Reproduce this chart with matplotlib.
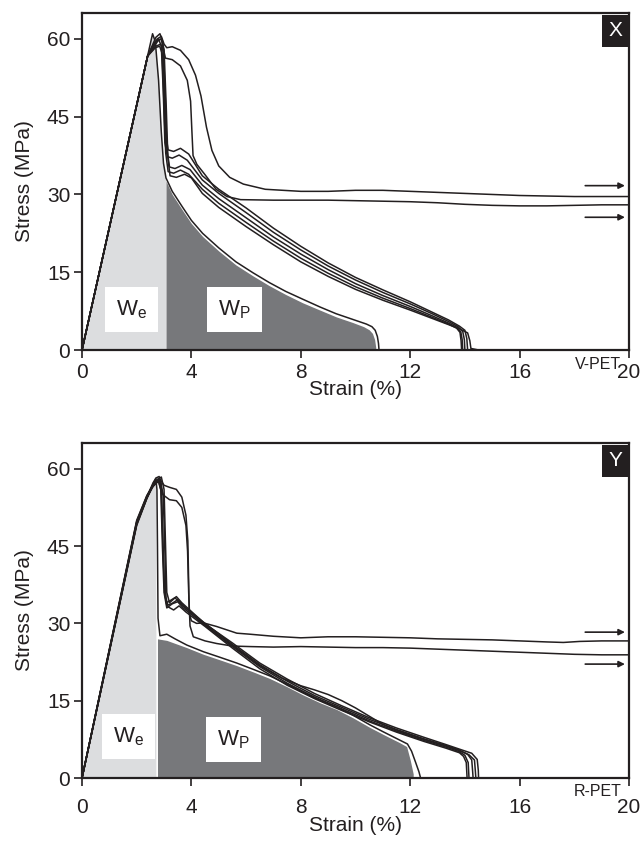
import numpy as np
import matplotlib.pyplot as plt

plt.rcParams['font.family'] = ['Liberation Sans', 'DejaVu Sans']
plt.rcParams['mathtext.fontset'] = 'custom'
plt.rcParams['mathtext.rm'] = 'Liberation Sans'
plt.rcParams['mathtext.it'] = 'Liberation Sans'

ink = '#231f20'
light = '#dcdddf'
dark = '#77787b'

xticks = [0, 4, 8, 12, 16, 20]
yticks = [0, 15, 30, 45, 60]

# ---------------- V-PET (panel X) ----------------
v1_x = [0, 2.58, 2.68, 2.8, 2.9, 2.98, 3.07, 3.3, 3.67, 4.0, 4.41, 5.0, 5.63, 6.25, 6.85, 7.45, 8.07, 8.7, 9.29, 9.9, 10.4, 10.6, 10.72, 10.8, 10.84, 10.86]
v1_y = [0, 61.0, 59.5, 52, 42, 36, 33.2, 30.6, 27.6, 25.0, 22.5, 19.7, 17.0, 14.9, 13.0, 11.3, 9.8, 8.3, 7.0, 5.9, 5.0, 4.5, 3.8, 2.6, 1.3, 0]
v2_x = [0, 2.4, 2.7, 2.85, 2.95, 3.0, 3.05, 3.15, 3.35, 3.6, 3.9, 4.4, 5.0, 6.0, 7.0, 8.0, 9.0, 10.0, 11.0, 12.0, 12.8, 13.4, 13.8, 14.0, 14.07, 14.1]
v2_y = [0, 56.7, 60.3, 61.0, 59.5, 52, 42, 38.6, 38.3, 38.9, 37.8, 33.6, 31.0, 27.4, 23.5, 20.0, 16.8, 14.0, 11.6, 9.3, 7.3, 5.8, 4.6, 3.8, 2.2, 0]
v3_x = [0, 2.4, 2.65, 2.8, 2.9, 2.97, 3.03, 3.12, 3.3, 3.55, 3.85, 4.4, 5.0, 6.0, 7.0, 8.0, 9.0, 10.0, 11.0, 12.0, 12.8, 13.4, 13.75, 13.92, 13.98, 14.0]
v3_y = [0, 56.7, 59.2, 60.0, 58.6, 50, 40, 37.3, 37.0, 37.6, 36.6, 32.8, 30.2, 26.5, 22.7, 19.3, 16.2, 13.5, 11.1, 8.9, 7.0, 5.5, 4.5, 3.6, 2.0, 0]
v4_x = [0, 2.4, 2.7, 2.88, 2.98, 3.05, 3.1, 3.2, 3.4, 3.65, 3.95, 4.4, 5.0, 6.0, 7.0, 8.0, 9.0, 10.0, 11.0, 12.0, 12.8, 13.4, 13.7, 13.85, 13.9, 13.92]
v4_y = [0, 56.7, 58.6, 59.0, 57.5, 48, 39, 35.3, 35.0, 35.6, 34.8, 31.8, 29.2, 25.5, 21.8, 18.5, 15.5, 12.8, 10.5, 8.4, 6.6, 5.2, 4.4, 3.5, 2.0, 0]
v5_x = [0, 2.4, 2.68, 2.84, 2.93, 3.0, 3.06, 3.15, 3.35, 3.6, 3.9, 4.4, 5.0, 6.0, 7.0, 8.0, 9.0, 10.0, 11.0, 12.0, 12.8, 13.4, 13.7, 13.82, 13.86, 13.88]
v5_y = [0, 56.7, 58.3, 58.6, 57.2, 47, 38, 34.4, 34.1, 34.7, 33.9, 31.0, 28.3, 24.6, 21.0, 17.7, 14.8, 12.2, 10.0, 8.0, 6.3, 5.0, 4.2, 3.4, 1.8, 0]
v6_x = [0, 2.4, 2.72, 2.9, 3.0, 3.08, 3.14, 3.22, 3.45, 3.75, 4.0, 4.4, 5.0, 6.0, 7.0, 8.0, 9.0, 10.0, 11.0, 12.0, 12.8, 13.4, 13.8, 14.1, 14.18, 14.22, 14.5]
v6_y = [0, 56.7, 59.5, 60.0, 58.0, 47, 37, 33.6, 33.3, 33.9, 33.2, 30.2, 27.5, 23.8, 20.3, 17.0, 14.2, 11.7, 9.6, 7.7, 6.1, 4.9, 4.1, 3.3, 1.8, 0.3, 0]
v7_x = [0, 2.4, 2.75, 2.9, 3.0, 3.1, 3.3, 3.6, 3.9, 4.15, 4.35, 4.55, 4.75, 5.0, 5.4, 5.9, 6.7, 8.0, 9.0, 10.0, 11.0, 12.0, 13.0, 14.0, 15.0, 16.0, 17.0, 18.0, 19.0, 20.0]
v7_y = [0, 56.7, 60.0, 60.5, 59.0, 58.3, 58.5, 57.8, 56.0, 53.0, 49.0, 43.0, 38.5, 35.5, 33.3, 32.0, 31.0, 30.6, 30.6, 30.8, 30.8, 30.6, 30.4, 30.2, 30.0, 29.8, 29.7, 29.6, 29.6, 29.6]
v8_x = [0, 2.4, 2.8, 2.9, 2.98, 3.05, 3.3, 3.6, 3.85, 3.97, 4.02, 4.06, 4.2, 4.5, 4.9, 5.3, 5.8, 7.0, 8.0, 9.0, 10.0, 11.0, 12.0, 13.0, 14.0, 15.0, 16.0, 17.0, 18.0, 19.0, 20.0]
v8_y = [0, 56.7, 59.8, 60.0, 58.0, 56.3, 56.0, 54.8, 52.0, 48.0, 42.0, 37.5, 35.8, 33.8, 31.0, 29.6, 29.0, 28.9, 28.9, 28.9, 28.8, 28.7, 28.6, 28.4, 28.1, 27.9, 27.8, 27.8, 27.9, 28.0, 28.0]

v_we_x = [0, 2.58, 2.68, 2.8, 2.9, 2.98, 3.07, 3.07]
v_we_y = [0, 61.0, 59.5, 52, 42, 36, 33.2, 0]
v_wp_x = [3.07, 3.3, 3.67, 4.0, 4.41, 5.0, 5.63, 6.25, 6.85, 7.45, 8.07, 8.7, 9.29, 9.9, 10.3, 10.5, 10.62, 10.7, 10.74]
v_wp_y = [32.6, 30.0, 27.0, 24.4, 21.9, 19.1, 16.4, 14.3, 12.4, 10.7, 9.1, 7.7, 6.4, 5.3, 4.5, 3.9, 3.2, 2.0, 0.5]
v_arrow_y = [31.7, 25.6]

# ---------------- R-PET (panel Y) ----------------
r1_x = [0, 2.0, 2.37, 2.6, 2.7, 2.74, 2.76, 2.78, 2.85, 3.1, 3.4, 3.83, 4.44, 5.0, 5.66, 6.3, 6.87, 7.5, 8.09, 8.7, 9.31, 9.9, 10.53, 11.0, 11.3, 11.6, 11.9, 12.05, 12.2, 12.32, 12.38]
r1_y = [0, 49.5, 54.5, 57.3, 58.1, 56, 45, 31, 27.6, 27.9, 27.0, 25.8, 24.5, 23.5, 22.3, 21.0, 19.8, 18.2, 16.6, 15.1, 13.8, 12.2, 10.3, 9.0, 8.2, 7.4, 6.6, 5.2, 3.0, 1.2, 0]
r2_x = [0, 2.0, 2.37, 2.55, 2.7, 2.82, 2.9, 2.95, 3.0, 3.08, 3.25, 3.4, 3.6, 4.5, 5.5, 6.5, 7.5, 8.5, 9.5, 10.5, 11.5, 12.5, 13.3, 13.8, 14.1, 14.25, 14.28, 14.3]
r2_y = [0, 49.8, 54.7, 56.5, 58.2, 58.5, 57, 48, 38, 34, 34.5, 35.0, 33.8, 30.0, 25.9, 22.0, 18.8, 16.0, 13.7, 11.4, 9.4, 7.6, 6.3, 5.4, 4.6, 3.5, 1.5, 0]
r3_x = [0, 2.0, 2.37, 2.55, 2.68, 2.78, 2.88, 2.94, 3.0, 3.1, 3.3, 3.5, 3.7, 4.5, 5.5, 6.5, 7.5, 8.5, 9.5, 10.5, 11.5, 12.5, 13.3, 13.8, 14.0, 14.12, 14.15]
r3_y = [0, 49.2, 54.3, 56.4, 57.6, 58.0, 56, 45, 36, 33.0, 33.8, 34.2, 33.0, 29.6, 25.5, 21.6, 18.4, 15.7, 13.4, 11.1, 9.1, 7.3, 6.0, 5.1, 4.4, 3.0, 0]
r4_x = [0, 2.0, 2.37, 2.55, 2.72, 2.85, 2.97, 3.03, 3.07, 3.15, 3.35, 3.55, 3.8, 4.5, 5.5, 6.5, 7.5, 8.5, 9.5, 10.5, 11.5, 12.5, 13.3, 13.8, 13.95, 14.05, 14.08]
r4_y = [0, 49.0, 54.2, 56.3, 57.4, 57.8, 55, 44, 35, 33.2, 32.6, 33.4, 32.2, 29.4, 25.2, 21.2, 18.0, 15.4, 13.1, 10.9, 8.9, 7.1, 5.8, 4.9, 4.2, 3.0, 0]
r5_x = [0, 2.0, 2.37, 2.6, 2.78, 2.9, 3.0, 3.05, 3.1, 3.2, 3.45, 3.65, 4.5, 5.5, 6.5, 7.5, 8.5, 9.5, 10.5, 11.5, 12.5, 13.3, 13.8, 14.25, 14.45, 14.49, 14.5]
r5_y = [0, 50.0, 54.8, 56.8, 58.0, 58.4, 56, 46, 36, 34, 35.2, 34, 29.9, 26.2, 22.3, 19.2, 16.4, 14.0, 11.7, 9.7, 7.9, 6.5, 5.6, 4.8, 3.6, 1.5, 0]
r6_x = [0, 2.0, 2.37, 2.55, 2.7, 2.8, 2.9, 2.96, 3.02, 3.1, 3.3, 3.5, 3.7, 4.5, 5.5, 6.5, 7.3, 8.0, 8.5, 9.0, 9.5, 10.0, 10.5, 11.0, 11.5, 12.5, 13.3, 13.8, 14.15, 14.35, 14.38, 14.4]
r6_y = [0, 49.4, 54.4, 56.3, 57.2, 57.5, 55.5, 45, 36, 33.5, 33.9, 34.6, 33.4, 29.7, 25.7, 21.8, 19.4, 17.9, 17.1, 16.2, 15.0, 13.6, 12.0, 10.4, 9.3, 7.5, 6.2, 5.3, 4.5, 3.5, 1.5, 0]
r7_x = [0, 2.0, 2.37, 2.6, 2.75, 2.85, 3.0, 3.2, 3.45, 3.65, 3.8, 3.87, 3.9, 3.92, 4.0, 4.19, 4.44, 4.92, 5.66, 6.14, 7, 8, 9, 10, 11, 12, 13, 14, 15, 16, 17, 17.6, 18.2, 19, 20]
r7_y = [0, 49.6, 54.6, 56.8, 57.8, 58.0, 56.8, 56.4, 56.0, 54.5, 51, 46, 38, 32, 30.5, 30.0, 30.1, 29.4, 28.1, 27.9, 27.5, 27.2, 27.4, 27.4, 27.3, 27.2, 27.0, 26.9, 26.8, 26.6, 26.4, 26.3, 26.5, 26.6, 26.6]
r8_x = [0, 2.0, 2.37, 2.6, 2.75, 2.85, 2.95, 3.2, 3.45, 3.65, 3.8, 3.86, 3.9, 3.95, 4.07, 4.5, 4.92, 5.5, 6.14, 7, 8, 9, 10, 11, 12, 13, 14, 15, 16, 17, 18, 19, 20]
r8_y = [0, 49.3, 54.3, 56.6, 57.4, 57.5, 55, 54.0, 53.8, 52.5, 49, 44, 36, 29.5, 27.4, 26.6, 26.1, 25.6, 25.5, 25.4, 25.5, 25.4, 25.3, 25.3, 25.2, 25.0, 24.8, 24.6, 24.4, 24.2, 24.0, 23.9, 23.9]

r_we_x = [0, 2.0, 2.37, 2.6, 2.7, 2.72, 2.72]
r_we_y = [0, 49.5, 54.5, 57.3, 57.8, 55, 0]
r_wp_x = [2.76, 3.1, 3.83, 4.44, 5.0, 5.66, 6.3, 6.87, 7.5, 8.09, 8.7, 9.31, 9.9, 10.53, 11.0, 11.26, 11.6, 11.87, 12.0, 12.11]
r_wp_y = [27.0, 26.7, 25.3, 24.0, 23.0, 21.8, 20.5, 19.3, 17.7, 16.1, 14.6, 13.3, 11.7, 9.8, 8.5, 7.8, 6.9, 6.1, 3.5, 0.8]
r_arrow_y = [28.3, 22.1]

arrow_x = [18.4, 19.85]

fig = plt.figure(figsize=(6.44, 8.41), dpi=100)
ax1 = fig.add_axes([82/644, 1 - 350/841, 547/644, 337/841])
ax2 = fig.add_axes([82/644, 1 - 778/841, 547/644, 335/841])


def panel(ax, curves, we_x, we_y, wp_x, wp_y, arrow_y, tag, name, we_pos, wp_pos,
          xpad, xlab_y, name_y):
    ax.fill(we_x, we_y, color=light, lw=0, zorder=1)
    ax.fill_between(wp_x, wp_y, 0, color=dark, lw=0, zorder=1)
    for cx, cy in curves:
        ax.plot(cx, cy, color=ink, lw=1.1, zorder=3, solid_joinstyle='round')
    for y in arrow_y:
        ax.annotate('', xy=(arrow_x[1], y), xytext=(arrow_x[0], y),
                    arrowprops=dict(arrowstyle='-|>', color=ink, lw=1.2,
                                    mutation_scale=9, shrinkA=0, shrinkB=0))
    box = dict(facecolor='white', edgecolor='none', boxstyle='square,pad=0.5')
    ax.text(*we_pos, r'W$_\mathrm{e}$', fontsize=16, ha='center', va='center',
            bbox=box, zorder=4, color=ink)
    ax.text(*wp_pos, r'W$_\mathrm{P}$', fontsize=16, ha='center', va='center',
            bbox=box, zorder=4, color=ink)
    ax.text(0.988, 0.975, tag, transform=ax.transAxes, fontsize=15, color='white',
            ha='right', va='top', zorder=5,
            bbox=dict(facecolor=ink, edgecolor='none', boxstyle='square,pad=0.32'))
    ax.text(0.986, name_y, name, transform=ax.transAxes, fontsize=11.5, color=ink,
            ha='right', va='top')
    ax.set_xlim(0, 20)
    ax.set_ylim(0, 65)
    ax.set_xticks(xticks)
    ax.set_yticks(yticks)
    ax.tick_params(direction='out', length=5.5, width=1.2, labelsize=15,
                   colors=ink, pad=3)
    ax.tick_params(axis='x', pad=xpad)
    for s in ax.spines.values():
        s.set_linewidth(1.6)
        s.set_color(ink)
    ax.set_xlabel('Strain (%)', fontsize=15, color=ink)
    ax.set_ylabel('Stress (MPa)', fontsize=15, color=ink)
    ax.xaxis.set_label_coords(0.5, xlab_y)
    ax.yaxis.set_label_coords(-0.088, 0.5)


panel(ax1,
      [(v1_x, v1_y), (v2_x, v2_y), (v3_x, v3_y), (v4_x, v4_y),
       (v5_x, v5_y), (v6_x, v6_y), (v7_x, v7_y), (v8_x, v8_y)],
      v_we_x, v_we_y, v_wp_x, v_wp_y, v_arrow_y, 'X', 'V-PET',
      (1.8, 7.8), (5.57, 7.8), 3.5, -0.088, -0.02)
panel(ax2,
      [(r1_x, r1_y), (r2_x, r2_y), (r3_x, r3_y), (r4_x, r4_y),
       (r5_x, r5_y), (r6_x, r6_y), (r7_x, r7_y), (r8_x, r8_y)],
      r_we_x, r_we_y, r_wp_x, r_wp_y, r_arrow_y, 'Y', 'R-PET',
      (1.7, 8.0), (5.53, 7.5), 9, -0.112, -0.018)

fig.savefig('out.png', dpi=100)
